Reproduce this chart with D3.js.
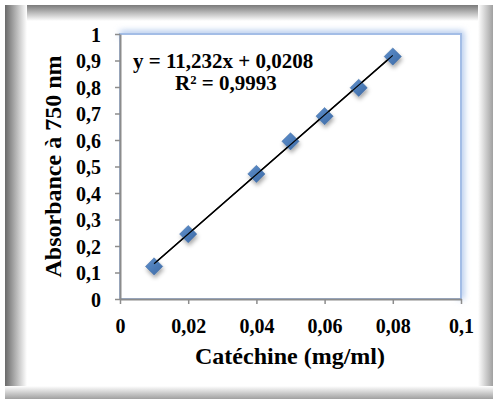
<!DOCTYPE html>
<html>
<head>
<meta charset="utf-8">
<script src="https://cdn.jsdelivr.net/npm/d3@7"></script>
<style>
  body { margin: 0; background: #fff; }
</style>
</head>
<body>
<script>
// catechine calibration data
var concentrations = [0.01, 0.02, 0.04, 0.05, 0.06, 0.07, 0.08];
var absorbances = [0.123, 0.245, 0.472, 0.595, 0.69, 0.797, 0.915];
var xTicks = [0, 0.02, 0.04, 0.06, 0.08, 0.1];
var yTicks = [0, 0.1, 0.2, 0.3, 0.4, 0.5, 0.6, 0.7, 0.8, 0.9, 1];
var slope = 11.232, intercept = 0.0208;
var equationText = "y = 11,232x + 0,0208";
var r2Text = "R² = 0,9993";

var FONT = "'Liberation Serif', 'Times New Roman', 'DejaVu Serif', serif";
var width = 497, height = 402;
var svg = d3.select("body").append("svg")
  .attr("width", width)
  .attr("height", height)
  .attr("font-family", FONT)
  .attr("font-weight", "bold");

var defs = svg.append("defs");

// frame shadow gradients
function grad(id, x1, y1, x2, y2, c1, c2) {
  var g = defs.append("linearGradient").attr("id", id)
    .attr("x1", x1).attr("y1", y1).attr("x2", x2).attr("y2", y2);
  g.append("stop").attr("offset", "0%").attr("stop-color", c1);
  g.append("stop").attr("offset", "100%").attr("stop-color", c2);
}
grad("gl", 0, 0, 1, 0, "#6a6a6a", "#ffffff");
grad("gt", 0, 0, 0, 1, "#7a7a7a", "#ffffff");
grad("gr", 0, 0, 1, 0, "#ffffff", "#a0a0a0");
grad("gb", 0, 0, 0, 1, "#ffffff", "#a0a0a0");

var shadow = defs.append("filter").attr("id", "sh")
  .attr("x", "-50%").attr("y", "-50%").attr("width", "200%").attr("height", "200%");
shadow.append("feDropShadow").attr("dx", 1).attr("dy", 3).attr("stdDeviation", 2)
  .attr("flood-color", "#000").attr("flood-opacity", 0.35);

var glow = defs.append("filter").attr("id", "glow")
  .attr("x", "-10%").attr("y", "-10%").attr("width", "120%").attr("height", "120%");
glow.append("feGaussianBlur").attr("stdDeviation", 3);

var dg = defs.append("linearGradient").attr("id", "dg")
  .attr("x1", 0).attr("y1", 0).attr("x2", 1).attr("y2", 1);
dg.append("stop").attr("offset", "0%").attr("stop-color", "#5f90cc");
dg.append("stop").attr("offset", "100%").attr("stop-color", "#3c6aa6");

// frame
svg.append("rect").attr("x", 5).attr("y", 5).attr("width", 488).attr("height", 394).attr("fill", "#fff");
svg.append("rect").attr("x", 5).attr("y", 5).attr("width", 488).attr("height", 16).attr("fill", "url(#gt)");
svg.append("rect").attr("x", 5).attr("y", 5).attr("width", 22).attr("height", 394).attr("fill", "url(#gl)");
svg.append("rect").attr("x", 478).attr("y", 5).attr("width", 15).attr("height", 394).attr("fill", "url(#gr)");
svg.append("rect").attr("x", 5).attr("y", 386).attr("width", 488).attr("height", 13).attr("fill", "url(#gb)");

var margin = { left: 120, top: 34, right: 461, bottom: 299 };

var x = d3.scaleLinear().domain([0, 0.1]).range([margin.left, margin.right]);
var y = d3.scaleLinear().domain([0, 1]).range([margin.bottom, margin.top]);

// plot area with blue glow on top/right
svg.append("path")
  .attr("d", "M" + margin.left + "," + margin.top + "H" + margin.right + "V" + margin.bottom)
  .attr("fill", "none").attr("stroke", "#a9c2ea").attr("stroke-width", 6)
  .attr("filter", "url(#glow)");
svg.append("rect")
  .attr("x", margin.left).attr("y", margin.top)
  .attr("width", margin.right - margin.left).attr("height", margin.bottom - margin.top)
  .attr("fill", "#fff").attr("stroke", "#a3bde6").attr("stroke-width", 2);

var comma = function(d) { return String(d).replace(".", ","); };

var xAxis = svg.append("g")
  .attr("transform", "translate(0," + margin.bottom + ")")
  .call(d3.axisBottom(x).tickValues(xTicks).tickFormat(comma).tickSize(5).tickSizeOuter(0));
var yAxis = svg.append("g")
  .attr("transform", "translate(" + margin.left + ",0)")
  .call(d3.axisLeft(y).tickValues(yTicks).tickFormat(comma).tickSize(5).tickSizeOuter(0));

[xAxis, yAxis].forEach(function(a) {
  a.attr("font-family", FONT).attr("font-size", 20);
  a.select(".domain").attr("stroke", "#8c8c8c").attr("stroke-width", 2);
  a.selectAll(".tick line").attr("stroke", "#8c8c8c").attr("stroke-width", 1.5);
  a.selectAll(".tick text").attr("fill", "#000");
});
xAxis.selectAll(".tick text").attr("dy", null).attr("y", 34);
yAxis.selectAll(".tick text").attr("x", -19).attr("dy", "0.35em");

// trendline
var trend = [concentrations[0], concentrations[concentrations.length - 1]];
function drawTrend(w) {
  svg.append("line")
    .attr("x1", x(trend[0])).attr("y1", y(slope * trend[0] + intercept))
    .attr("x2", x(trend[1])).attr("y2", y(slope * trend[1] + intercept))
    .attr("stroke", "#000").attr("stroke-width", w);
}
drawTrend(1.5);

// points (diamonds)
svg.selectAll(".pt")
  .data(concentrations)
  .enter().append("path")
  .attr("class", "pt")
  .attr("d", d3.symbol().type(d3.symbolDiamond2).size(190))
  .attr("transform", function(d, i) { return "translate(" + x(d) + "," + y(absorbances[i]) + ")"; })
  .attr("fill", "url(#dg)")
  .attr("stroke", "#3a66a0").attr("stroke-width", 0.5)
  .attr("filter", "url(#sh)");

// line shows over the markers
drawTrend(1.2);

// equation
svg.append("text").attr("x", 133).attr("y", 68).attr("font-size", 21).text(equationText);
svg.append("text").attr("x", 175).attr("y", 90).attr("font-size", 21).text(r2Text);

// axis titles
svg.append("text")
  .attr("x", 290).attr("y", 364)
  .attr("text-anchor", "middle").attr("font-size", 24)
  .text("Catéchine (mg/ml)");
svg.append("text")
  .attr("transform", "translate(61," + (margin.top + margin.bottom) / 2 + ") rotate(-90)")
  .attr("text-anchor", "middle").attr("font-size", 24)
  .text("Absorbance à 750 nm");
</script>
</body>
</html>
